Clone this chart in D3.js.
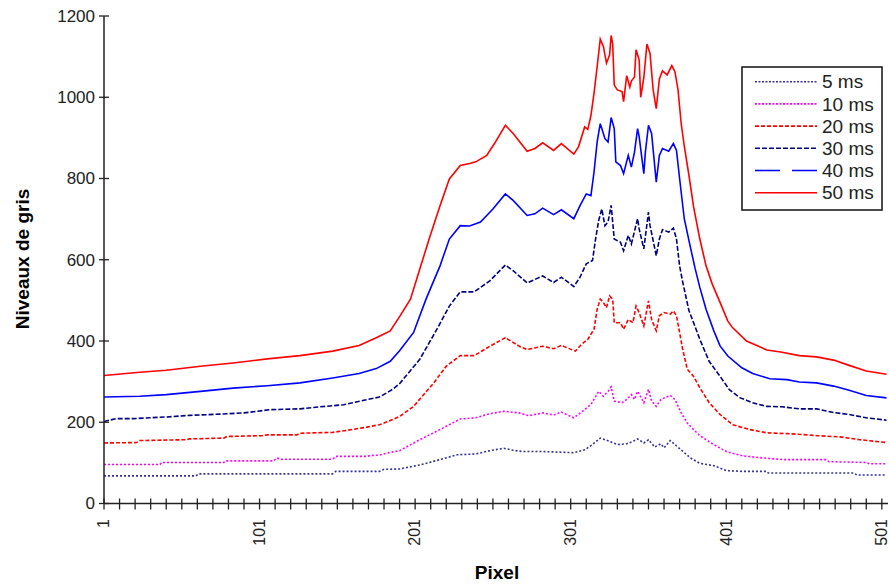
<!DOCTYPE html>
<html><head><meta charset="utf-8">
<script src="https://cdn.jsdelivr.net/npm/d3@7"></script>
<style>
body{margin:0;background:#fff}
svg{display:block}
text{font-family:"Liberation Sans",Arial,sans-serif}
</style>
</head><body>
<svg id="c" width="889" height="585"></svg>
<script>
// ---- data ----
const seriesNames = ["5 ms","10 ms","20 ms","30 ms","40 ms","50 ms"];

const px5 = [1,60,62,148,150,178,181,191,204,217,228,240,249,258,264,270,283,303,310,315,320,323,326,331,337,341,344,348,351,355,359,361,365,368,372,378,384,393,401,412,427,428,483,485,504];
const v5  = [68,68,73,73,79,79,84,85,95,108,120,122,130,136,131,128,128,125,132,145,161,157,153,145,147,153,159,149,157,139,147,137,155,145,132,112,99,93,81,79,79,75,75,70,70];

const px10 = [1,37,38,78,79,110,112,115,148,150,170,172,178,183,191,204,217,230,240,249,258,268,274,283,290,295,303,310,314,319,322,325,327,329,334,337,340,342,344,348,351,353,356,359,365,368,372,376,380,384,393,401,412,425,438,465,467,491,493,504];
const v10  = [96,96,101,101,105,105,112,109,109,116,116,118,119,124,130,157,182,208,211,221,227,223,216,223,218,225,211,231,244,276,264,276,287,252,248,256,268,256,276,248,281,252,239,256,266,256,223,198,182,167,145,128,117,112,108,108,103,101,98,98];

const px20 = [1,22,24,54,56,78,80,103,106,125,127,148,157,170,178,181,191,200,213,221,230,239,249,259,268,273,283,290,295,304,308,312,316,318,320,322,324,326,328,329,333,335,338,341,343,345,348,350,351,353,356,358,361,365,367,369,371,373,376,380,384,390,397,405,416,427,440,453,459,474,487,504];
const v20  = [149,150,155,157,159,161,165,167,169,169,173,175,180,188,194,198,214,239,297,338,364,364,387,408,387,379,387,381,389,375,392,404,429,478,503,495,482,511,503,445,445,429,453,445,486,470,437,478,499,453,425,462,470,466,474,462,421,379,330,313,285,248,219,194,182,174,172,169,167,164,157,150];

const px30 = [1,9,20,41,56,76,91,108,127,140,155,168,178,187,191,204,215,223,230,239,249,259,264,273,283,290,295,303,307,311,315,317,319,321,323,325,327,329,333,335,338,340,344,345,348,351,352,356,358,360,364,367,369,371,373,377,380,384,390,397,403,410,418,427,437,448,459,470,480,491,504];
const v30  = [202,209,209,213,217,220,223,231,233,238,243,254,262,282,295,355,429,486,521,521,548,587,573,543,560,544,557,534,557,590,598,651,697,725,684,693,734,651,643,622,660,639,701,676,627,717,684,610,651,674,668,678,651,585,545,475,445,404,350,313,280,260,248,239,238,233,233,224,219,211,205];

const px40 = [1,24,41,63,84,106,127,148,165,176,185,191,200,208,217,223,230,236,243,251,259,264,273,278,283,290,295,303,307,311,314,316,318,320,321,323,325,327,329,330,333,335,338,340,342,344,345,348,349,351,353,356,358,360,364,367,369,371,374,378,381,384,388,393,397,402,411,418,429,440,448,459,470,480,491,504];
const v40  = [262,264,268,276,284,290,297,309,320,332,350,376,421,503,585,651,684,683,693,725,762,746,709,713,727,711,723,701,733,762,758,816,890,935,923,898,890,950,923,841,832,812,857,828,865,923,903,812,865,931,911,791,857,874,867,886,869,800,701,630,578,532,478,425,388,363,334,320,307,305,299,297,289,279,266,260];

const px50 = [1,24,41,63,84,106,127,148,165,176,185,191,198,204,210,217,223,230,236,240,247,252,259,264,273,278,283,290,295,303,306,310,312,314,316,318,320,322,324,326,327,328,329,331,334,335,337,339,340,342,343,345,346,348,350,352,354,356,358,360,363,366,368,370,372,374,377,380,384,388,392,397,402,405,414,427,436,448,459,470,480,491,504];
const v50  = [315,323,328,338,346,356,364,375,389,408,425,460,503,577,651,733,799,832,837,841,857,886,931,911,867,874,888,869,886,860,878,927,921,955,1010,1075,1143,1125,1084,1104,1152,1130,1030,1018,1014,989,1053,1025,1040,1050,1117,1092,1000,1048,1131,1108,1018,972,1045,1065,1055,1078,1063,1018,936,880,808,730,651,585,540,495,449,433,400,378,373,364,361,353,340,326,318];

const yTickValues = [0,200,400,600,800,1000,1200];
const xTickLabels = [1,101,201,301,401,501];
const xTitle = "Pixel";
const yTitle = "Niveaux de gris";

// ---- styles ----
const colors = ["#333399","#FF00FF","#FF0000","#000080","#0000FF","#FF0000"];
const chartDash = ["2,2","2,2","4,2","5,2",null,null];
const legendDash = ["2,1.5","2,1.5","4,2","5,2","25,12",null];

const xs = [px5,px10,px20,px30,px40,px50];
const vs = [v5,v10,v20,v30,v40,v50];

const svg = d3.select("#c");
const x = d3.scaleLinear().domain([1,504]).range([104,886.5]);
const y = d3.scaleLinear().domain([0,1200]).range([503.5,16]);

// series
const line = d3.line().x(d=>x(d[0])).y(d=>y(d[1]));
seriesNames.forEach((n,i)=>{
  const data = xs[i].map((p,j)=>[p,vs[i][j]]);
  svg.append("path").datum(data)
    .attr("d",line).attr("fill","none")
    .attr("stroke",colors[i]).attr("stroke-width",1.6)
    .attr("stroke-dasharray",chartDash[i]);
});

// axes
const axisColor = "#222";
svg.append("line").attr("x1",104).attr("x2",104).attr("y1",y(1200)).attr("y2",y(0))
  .attr("stroke",axisColor).attr("stroke-width",1.5);
svg.append("line").attr("x1",104).attr("x2",888).attr("y1",y(0)).attr("y2",y(0))
  .attr("stroke",axisColor).attr("stroke-width",1.5);

yTickValues.forEach(v=>{
  svg.append("line").attr("x1",99).attr("x2",109).attr("y1",y(v)).attr("y2",y(v))
    .attr("stroke",axisColor).attr("stroke-width",1.3);
  svg.append("text").attr("x",95).attr("y",y(v)).attr("dy","0.35em")
    .attr("text-anchor","end").attr("font-size",17).attr("fill","#222").text(v);
});

d3.range(1,502,10).forEach(p=>{
  svg.append("line").attr("x1",x(p)).attr("x2",x(p)).attr("y1",y(0)-5).attr("y2",y(0)+6)
    .attr("stroke",axisColor).attr("stroke-width",1.3);
});
xTickLabels.forEach(p=>{
  svg.append("text").attr("transform",`translate(${x(p)},519) rotate(-90)`)
    .attr("dy","0.33em").attr("text-anchor","end").attr("font-size",16).attr("fill","#222").text(p);
});

// titles
svg.append("text").attr("x",497).attr("y",572).attr("dy","0.35em").attr("text-anchor","middle")
  .attr("font-size",19).attr("font-weight","bold").attr("fill","#000").text(xTitle);
svg.append("text").attr("transform","translate(22,259) rotate(-90)").attr("dy","0.35em")
  .attr("text-anchor","middle").attr("font-size",19).attr("font-weight","bold").attr("fill","#000").text(yTitle);

// legend
const lg = svg.append("g");
lg.append("rect").attr("x",742).attr("y",67).attr("width",140).attr("height",143)
  .attr("fill","#fff").attr("stroke","#111").attr("stroke-width",1.5);
seriesNames.forEach((n,i)=>{
  const yy = 81.7 + i*22.2;
  lg.append("line").attr("x1",755).attr("x2",817).attr("y1",yy).attr("y2",yy)
    .attr("stroke",colors[i]).attr("stroke-width",1.6).attr("stroke-dasharray",legendDash[i]);
  lg.append("text").attr("x",822).attr("y",yy).attr("dy","0.35em")
    .attr("font-size",19).attr("fill","#222").text(n);
});
</script>
</body></html>
